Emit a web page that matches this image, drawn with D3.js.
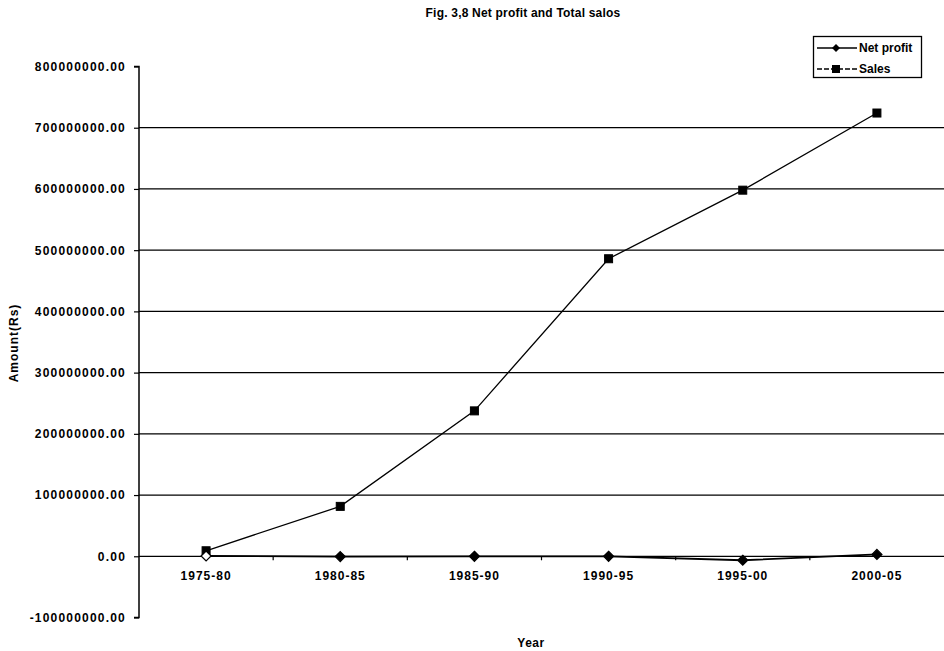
<!DOCTYPE html>
<html><head><meta charset="utf-8">
<script src="https://cdn.jsdelivr.net/npm/d3@7"></script>
<style>body{margin:0;background:#fff}svg{display:block}text{font-family:"Liberation Sans",Arial,sans-serif}</style>
</head><body><svg id="c" width="944" height="651"></svg>
<script>
const categories = ["1975-80","1980-85","1985-90","1990-95","1995-00","2000-05"];
const netProfit = [500000, -500000, 0, 0, -6500000, 3000000];
const sales = [9000000, 81500000, 237500000, 486000000, 598000000, 724000000];
const yTicks = [-100000000, 0, 100000000, 200000000, 300000000, 400000000, 500000000, 600000000, 700000000, 800000000];

(function(){
const FF = '"Liberation Sans",Arial,sans-serif';
const svg = d3.select("#c");
const pL = 139, pR = 944, pT = 66.5, pB = 617.5;
const x = d3.scaleBand().domain(categories).range([pL, pR]);
const y = d3.scaleLinear().domain([-100000000, 800000000]).range([pB, pT]);

svg.append("text").attr("x", 523).attr("y", 17).attr("text-anchor","middle")
  .attr("font-size", 12).attr("font-weight","bold").attr("letter-spacing", 0.2).text("Fig. 3,8 Net profit and Total salos");

// gridlines
svg.append("g").selectAll("line").data(yTicks.filter(d => d > -100000000 && d < 800000000)).join("line")
  .attr("x1", pL).attr("x2", pR).attr("y1", d => y(d)).attr("y2", d => y(d))
  .attr("stroke", "#000").attr("stroke-width", 1.3);

// y axis
const ya = svg.append("g").attr("transform", `translate(${pL},0)`)
  .call(d3.axisLeft(y).tickValues(yTicks).tickSize(5).tickPadding(8).tickFormat(d => d3.format(".2f")(d).replace("−","-")));
ya.select(".domain").attr("stroke-width", 1.5).attr("d", `M-5,${pT}H0V${pB}H-5`);
ya.selectAll("text").attr("font-size", 12).attr("font-weight","bold").attr("letter-spacing", 1.2).attr("fill","#000").style("font-family", FF);
ya.selectAll("line").attr("stroke-width", 1.2);

// x axis at zero
const xa = svg.append("g").attr("transform", `translate(0,${y(0)})`)
  .call(d3.axisBottom(x).tickSize(0).tickPadding(15));
xa.select(".domain").remove();
xa.selectAll("text").attr("font-size", 12).attr("font-weight","bold").attr("letter-spacing", 1).attr("fill","#000").style("font-family", FF);
svg.append("g").selectAll("line").data(categories.slice(1)).join("line")
  .attr("x1", d => x(d)).attr("x2", d => x(d)).attr("y1", y(0)).attr("y2", y(0) + 4)
  .attr("stroke", "#000").attr("stroke-width", 1.2);

const cx = d => x(d) + x.bandwidth()/2;
const line = d3.line().x((d,i) => cx(categories[i])).y(d => y(d));

svg.append("path").datum(sales).attr("d", line).attr("fill","none").attr("stroke","#000").attr("stroke-width",1.3);
svg.append("path").datum(netProfit).attr("d", line).attr("fill","none").attr("stroke","#000").attr("stroke-width",1.8);

svg.append("g").selectAll("rect").data(sales).join("rect")
  .attr("x", (d,i) => cx(categories[i]) - 4).attr("y", d => y(d) - 4)
  .attr("width", 8).attr("height", 8).attr("fill", "#000").attr("stroke","#000");
svg.append("g").selectAll("path").data(netProfit).join("path")
  .attr("transform", (d,i) => `translate(${cx(categories[i])},${y(d)})`)
  .attr("d", "M0,-5L5,0L0,5L-5,0Z").attr("fill", (d,i) => i === 0 ? "#fff" : "#000").attr("stroke","#000").attr("stroke-width",1.2);

// axis titles
svg.append("text").attr("transform", `translate(18,343) rotate(-90)`).attr("text-anchor","middle")
  .attr("font-size", 12).attr("font-weight","bold").attr("letter-spacing", 1).text("Amount(Rs)");
svg.append("text").attr("x", 531).attr("y", 647).attr("text-anchor","middle")
  .attr("font-size", 12).attr("font-weight","bold").attr("letter-spacing", 0.5).text("Year");

// legend
const lg = svg.append("g");
lg.append("rect").attr("x", 813.5).attr("y", 36.5).attr("width", 108).attr("height", 41)
  .attr("fill","#fff").attr("stroke","#000").attr("stroke-width",1.3);
const items = [{name:"Net profit", shape:"diamond", yy:48}, {name:"Sales", shape:"square", yy:69}];
items.forEach(it => {
  lg.append("line").attr("x1", 817).attr("x2", 857).attr("y1", it.yy).attr("y2", it.yy)
    .attr("stroke","#000").attr("stroke-width", 1.5).attr("stroke-dasharray", it.shape === "square" ? "5,2" : null);
  if (it.shape === "diamond") lg.append("path").attr("transform", `translate(836,${it.yy})`).attr("d","M0,-4L4,0L0,4L-4,0Z").attr("fill","#000");
  else lg.append("rect").attr("x", 832).attr("y", it.yy - 4).attr("width", 8).attr("height", 8).attr("fill","#000");
  lg.append("text").attr("x", 859).attr("y", it.yy + 4).attr("font-size", 12).attr("font-weight","bold").text(it.name);
});
})();
</script></body></html>
